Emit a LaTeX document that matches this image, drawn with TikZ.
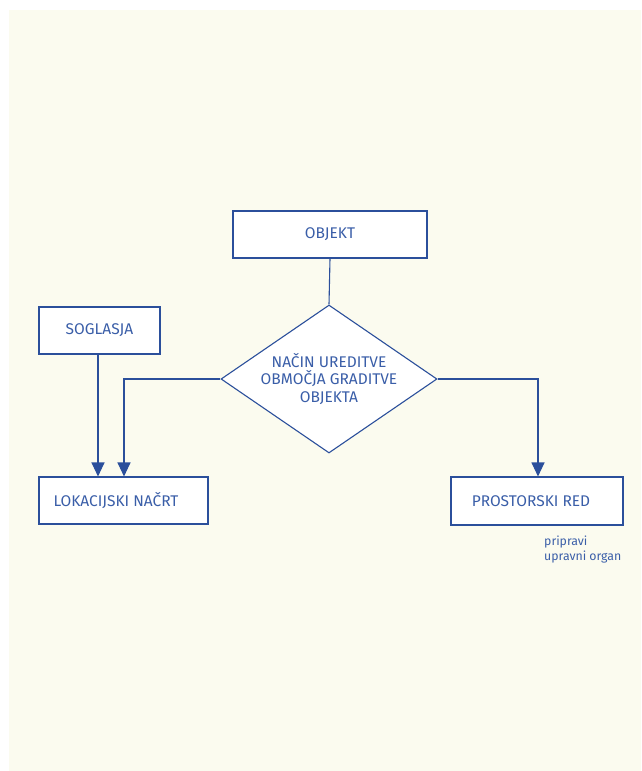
\documentclass[tikz,border=0pt]{standalone}
\usepackage{fontspec}
\setmainfont{Fira Sans}
\usetikzlibrary{arrows.meta,shapes.geometric}
\definecolor{paper}{HTML}{FBFBEF}
\definecolor{ink}{HTML}{2B4F9B}
\definecolor{label}{HTML}{3A5EA8}
\begin{document}
\begin{tikzpicture}[x=1pt,y=-1pt,
  box/.style={draw=ink,line width=1.1pt,fill=white,inner sep=0pt,
    font=\fontsize{15.5}{18}\selectfont,text=label},
  link/.style={draw=ink,line width=1.1pt},
  flow/.style={link,-{Triangle[width=13pt,length=14pt]}}]
  \useasboundingbox (0,0) rectangle (641,771);
  \fill[paper] (9,10) rectangle (641,771);

  % boxes
  \node[box,minimum width=194pt,minimum height=47pt] (obj) at (330,234.5) {OBJEKT};
  \node[box,minimum width=121pt,minimum height=47pt] (sog) at (99.5,330.5) {SOGLASJA};
  \node[box,minimum width=169pt,minimum height=47pt] (lok) at (123.5,500.5) {\hspace*{-15pt}LOKACIJSKI NAČRT};
  \node[box,minimum width=172pt,minimum height=48pt] (pro) at (537,501) {\hspace*{-12pt}PROSTORSKI RED};

  % decision: outline and its caption
  \node[box,diamond,minimum width=216pt,minimum height=148pt] (dec) at (329,379) {};
  \node[align=center,inner sep=0pt,text=label,
        font=\fontsize{15.5}{17.5}\selectfont] (dectext) at (dec.center)
        {NAČIN UREDITVE\\OBMOČJA GRADITVE\\OBJEKTA};

  % connectors
  \coordinate (lt) at (124,379);
  \coordinate (rt) at (538,379);
  \draw[link] (obj.south) -- (dec.north);
  \draw[flow] (sog.south -| 98,0) -- (lok.north -| 98,0);
  \draw[flow] (dec.west) -- (lt) -- (lt |- lok.north);
  \draw[flow] (dec.east) -- (rt) -- (rt |- pro.north);

  % note
  \node[anchor=north west,inner sep=0pt,align=left,text=label,
        font=\fontsize{12.3}{15}\selectfont] (note) at (544,536)
        {pripravi\\upravni organ};
\end{tikzpicture}
\end{document}
